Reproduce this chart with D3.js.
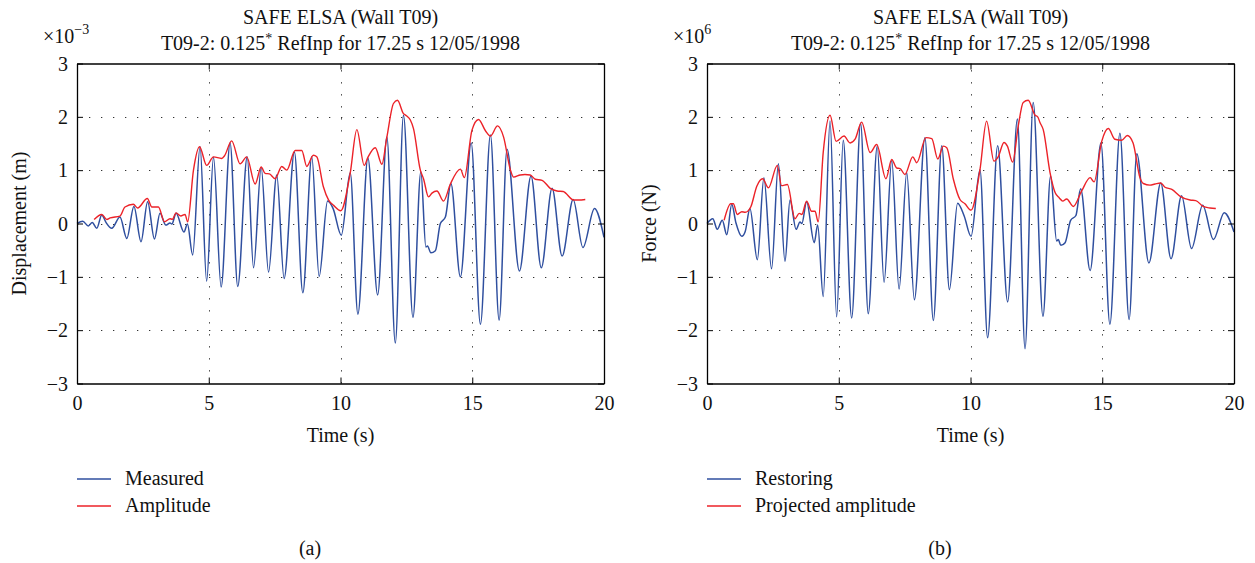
<!DOCTYPE html>
<html><head><meta charset="utf-8">
<script src="https://cdn.jsdelivr.net/npm/d3@7"></script>
<style>
body{margin:0;background:#fff}
svg text{font-family:"Liberation Serif","Times New Roman",serif;fill:#111}
</style></head><body>
<svg id="c" width="1255" height="563"></svg>
<script>
// ---- data ----
const xTicks = [0, 5, 10, 15, 20];
const yTicks = [-3, -2, -1, 0, 1, 2, 3];
const titleLines = ["SAFE ELSA (Wall T09)", "T09-2: 0.125"];
const measured = [[0,0],[0.22,0.04],[0.43,-0.045],[0.58,0.02],[0.75,-0.09],[0.94,0.16],[1.1,0.02],[1.32,-0.09],[1.63,0.12],[1.89,-0.28],[2.16,0.32],[2.43,-0.34],[2.68,0.41],[2.94,-0.29],[3.15,0.19],[3.37,-0.03],[3.53,0.01],[3.6,-0.01],[3.76,0.19],[4.06,-0.16],[4.19,-0.01],[4.39,-0.59],[4.67,1.44],[4.92,-1.08],[5.18,1.24],[5.47,-1.19],[5.81,1.51],[6.10,-1.18],[6.46,1.25],[6.70,-0.83],[6.99,1.05],[7.27,-0.91],[7.58,0.91],[7.86,-1.03],[8.25,1.34],[8.57,-1.30],[8.91,1.25],[9.19,-0.99],[9.51,0.42],[9.72,0.28],[10.03,-0.22],[10.37,0.95],[10.66,-1.70],[11.04,1.23],[11.41,-1.34],[11.76,1.62],[12.08,-2.24],[12.39,2.03],[12.75,-1.76],[13.05,0.97],[13.24,-0.44],[13.3,-0.42],[13.43,-0.55],[13.60,-0.51],[13.79,0.0],[13.98,0.12],[14.19,0.75],[14.55,-1.0],[14.96,1.51],[15.31,-1.89],[15.69,1.66],[16.02,-1.81],[16.32,1.39],[16.79,-0.89],[17.23,0.89],[17.62,-0.83],[18.03,0.66],[18.41,-0.61],[18.83,0.45],[19.20,-0.45],[19.64,0.28],[20,-0.26]];
const amplitude = [[0.65,0.075],[0.94,0.17],[1.13,0.075],[1.26,0.105],[1.63,0.14],[1.82,0.31],[2.14,0.36],[2.30,0.29],[2.67,0.47],[2.84,0.31],[3.09,0.31],[3.32,0.03],[3.53,0.09],[3.62,0.08],[3.76,0.2],[3.94,0.14],[4.10,0.17],[4.2,0.03],[4.42,1.0],[4.65,1.44],[4.92,1.09],[5.18,1.25],[5.49,1.22],[5.6,1.27],[5.87,1.55],[6.19,1.12],[6.44,1.25],[6.76,0.74],[6.99,1.06],[7.14,0.94],[7.3,0.93],[7.52,0.84],[7.77,1.07],[7.96,1.0],[8.28,1.37],[8.53,1.37],[8.72,1.07],[8.97,1.28],[9.1,1.25],[9.35,0.69],[9.55,0.44],[9.74,0.34],[10.01,0.24],[10.37,0.95],[10.62,1.76],[10.9,1.09],[11.04,1.24],[11.32,1.42],[11.57,1.11],[11.76,1.62],[12.01,2.25],[12.16,2.31],[12.39,2.06],[12.5,2.02],[12.65,1.94],[12.77,1.78],[13.03,1.0],[13.15,0.84],[13.34,0.5],[13.47,0.57],[13.66,0.61],[13.91,0.42],[14.17,0.74],[14.55,1.02],[14.70,0.86],[14.99,1.75],[15.24,1.95],[15.50,1.74],[15.69,1.64],[15.96,1.83],[16.19,1.62],[16.45,1.0],[16.57,0.87],[16.82,0.91],[17.0,0.92],[17.2,0.91],[17.39,0.83],[17.65,0.81],[17.96,0.66],[18.22,0.61],[18.45,0.6],[18.85,0.44],[19.04,0.44],[19.29,0.45]];
const restoring = [[0,0],[0.22,0.09],[0.39,-0.11],[0.58,0.06],[0.75,-0.21],[0.94,0.36],[1.10,0.01],[1.32,-0.24],[1.45,-0.15],[1.63,0.28],[1.91,-0.68],[2.16,0.86],[2.45,-0.85],[2.71,1.12],[2.96,-0.71],[3.15,0.44],[3.38,-0.11],[3.53,0.03],[3.6,0.0],[3.78,0.41],[4.07,-0.36],[4.2,-0.03],[4.41,-1.37],[4.67,1.92],[4.92,-1.75],[5.17,1.56],[5.49,-1.77],[5.83,1.88],[6.12,-1.69],[6.46,1.45],[6.72,-1.10],[7.01,1.18],[7.29,-1.23],[7.58,0.95],[7.87,-1.43],[8.27,1.61],[8.59,-1.82],[8.91,1.46],[9.20,-1.24],[9.51,0.38],[9.76,0.14],[10.02,-0.24],[10.36,1.01],[10.65,-2.14],[11.03,1.46],[11.41,-1.47],[11.78,1.96],[12.07,-2.35],[12.38,2.27],[12.75,-1.74],[13.04,0.89],[13.27,-0.33],[13.33,-0.3],[13.43,-0.41],[13.59,-0.36],[13.80,0.06],[14.0,0.15],[14.18,0.65],[14.54,-0.88],[14.95,1.51],[15.29,-1.89],[15.67,1.69],[16.02,-1.80],[16.31,1.31],[16.77,-0.74],[17.22,0.76],[17.61,-0.66],[18.01,0.52],[18.39,-0.47],[18.81,0.34],[19.22,-0.30],[19.63,0.20],[20,-0.16]];
const projected = [[0.65,0.06],[0.9,0.37],[1.0,0.37],[1.15,0.17],[1.32,0.22],[1.45,0.21],[1.66,0.31],[1.89,0.70],[2.11,0.84],[2.33,0.67],[2.67,1.09],[2.83,0.71],[3.05,0.73],[3.34,0.09],[3.5,0.19],[3.6,0.17],[3.78,0.42],[3.97,0.23],[4.1,0.23],[4.22,0.03],[4.41,1.33],[4.67,2.03],[4.9,1.54],[5.2,1.64],[5.43,1.51],[5.62,1.58],[5.87,1.90],[6.19,1.33],[6.44,1.48],[6.79,0.84],[7.01,1.20],[7.2,1.04],[7.33,1.03],[7.51,0.92],[7.81,1.25],[7.96,1.14],[8.31,1.61],[8.53,1.59],[8.76,1.21],[8.97,1.45],[9.1,1.42],[9.35,0.83],[9.60,0.45],[9.79,0.37],[10.02,0.25],[10.36,1.01],[10.61,1.92],[10.89,1.17],[11.06,1.26],[11.27,1.52],[11.4,1.45],[11.60,1.15],[11.81,1.82],[12.0,2.27],[12.19,2.31],[12.45,2.03],[12.55,2.0],[12.64,1.89],[12.76,1.76],[13.02,0.95],[13.21,0.58],[13.37,0.48],[13.50,0.42],[13.65,0.46],[13.90,0.32],[14.22,0.61],[14.54,0.86],[14.69,0.78],[14.98,1.54],[15.23,1.78],[15.48,1.58],[15.74,1.56],[15.95,1.65],[16.17,1.51],[16.43,0.86],[16.56,0.75],[16.81,0.72],[17.0,0.74],[17.22,0.76],[17.38,0.68],[17.64,0.64],[17.96,0.51],[18.33,0.44],[18.55,0.43],[18.83,0.32],[19.09,0.29],[19.31,0.28]];

const panels = [
  {ox:0, ylabel:"Displacement (m)", exp:"\u22123", s1:measured, s2:amplitude, names:["Measured","Amplitude"], tag:"(a)"},
  {ox:630, ylabel:"Force (N)", exp:"6", s1:restoring, s2:projected, names:["Restoring","Projected amplitude"], tag:"(b)"}
];
const BLUE = "#2f4f9f", RED = "#ec2228";
const FS = 20;

const svg = d3.select("#c");
panels.forEach(p => {
  const g = svg.append("g").attr("transform", `translate(${p.ox},0)`);
  const L = 77, R = 604, T = 63.5, B = 383.5;
  const x = d3.scaleLinear().domain([0,20]).range([L,R]);
  const y = d3.scaleLinear().domain([-3,3]).range([B,T]);

  // grid
  const grid = g.append("g").attr("stroke","#333").attr("stroke-width",1).attr("stroke-dasharray","1.3,10.7");
  grid.selectAll(".gx").data(xTicks.filter(t=>t>0&&t<20)).join("line")
    .attr("x1",d=>Math.round(x(d))+0.5).attr("x2",d=>Math.round(x(d))+0.5).attr("y1",B).attr("y2",T);
  grid.selectAll(".gy").data(yTicks.filter(t=>t>-3&&t<3)).join("line")
    .attr("y1",d=>Math.round(y(d))+0.5).attr("y2",d=>Math.round(y(d))+0.5).attr("x1",L).attr("x2",R);

  // lines
  const line = d3.line().x(d=>x(d[0])).y(d=>y(d[1])).curve(d3.curveMonotoneX);
  g.append("path").datum(p.s1).attr("d",line).attr("fill","none").attr("stroke",BLUE).attr("stroke-width",1.5);
  g.append("path").datum(p.s2).attr("d",line).attr("fill","none").attr("stroke",RED).attr("stroke-width",1.4);

  // axes (inward ticks, mirrored)
  const fmt = d => d < 0 ? "\u2212" + Math.abs(d) : String(d);
  const ax = (a, tr) => g.append("g").attr("transform", tr).call(a);
  const bottom = ax(d3.axisBottom(x).tickValues(xTicks).tickSizeInner(-6).tickSizeOuter(0).tickFormat(fmt), `translate(0,${B})`);
  const top = ax(d3.axisTop(x).tickValues(xTicks).tickSizeInner(-6).tickSizeOuter(0).tickFormat(""), `translate(0,${T})`);
  const left = ax(d3.axisLeft(y).tickValues(yTicks).tickSizeInner(-6).tickSizeOuter(0).tickFormat(fmt), `translate(${L},0)`);
  const right = ax(d3.axisRight(y).tickValues(yTicks).tickSizeInner(-6).tickSizeOuter(0).tickFormat(""), `translate(${R},0)`);
  [bottom,top,left,right].forEach(a=>{
    a.attr("font-family",null);
    a.select(".domain").attr("stroke","#000").attr("stroke-width",1.3);
    a.selectAll(".tick line").attr("stroke","#000").attr("stroke-width",1);
    a.selectAll("text").attr("font-size",FS).attr("fill","#111");
  });
  bottom.selectAll("text").attr("dy",null).attr("y",26);
  left.selectAll("text").attr("x",-9).attr("dy","0.33em");

  // titles
  const cx = (L+R)/2;
  g.append("text").attr("x",cx).attr("y",24).attr("text-anchor","middle").attr("font-size",FS).text(titleLines[0]);
  const t2 = g.append("text").attr("x",cx).attr("y",50).attr("text-anchor","middle").attr("font-size",FS);
  t2.append("tspan").text(titleLines[1]);
  t2.append("tspan").attr("dy",-7).attr("font-size",14).text("*");
  t2.append("tspan").attr("dy",7).text(" RefInp for 17.25 s 12/05/1998");

  // exponent
  const ex = g.append("text").attr("x",43).attr("y",43).attr("font-size",FS);
  ex.append("tspan").text("\u00d710");
  ex.append("tspan").attr("dy",-9).attr("font-size",14).text(p.exp);

  // axis labels
  g.append("text").attr("x",cx).attr("y",442).attr("text-anchor","middle").attr("font-size",FS).text("Time (s)");
  g.append("text").attr("transform",`translate(26,${(T+B)/2}) rotate(-90)`).attr("text-anchor","middle").attr("font-size",FS).text(p.ylabel);

  // legend
  [[BLUE,p.names[0],479],[RED,p.names[1],506]].forEach(([c,n,yy])=>{
    g.append("line").attr("x1",77).attr("x2",111).attr("y1",yy).attr("y2",yy).attr("stroke",c).attr("stroke-width",1.3);
    g.append("text").attr("x",125).attr("y",yy+6).attr("font-size",FS).text(n);
  });
  g.append("text").attr("x",310).attr("y",555).attr("text-anchor","middle").attr("font-size",FS).text(p.tag);
});
</script></body></html>
